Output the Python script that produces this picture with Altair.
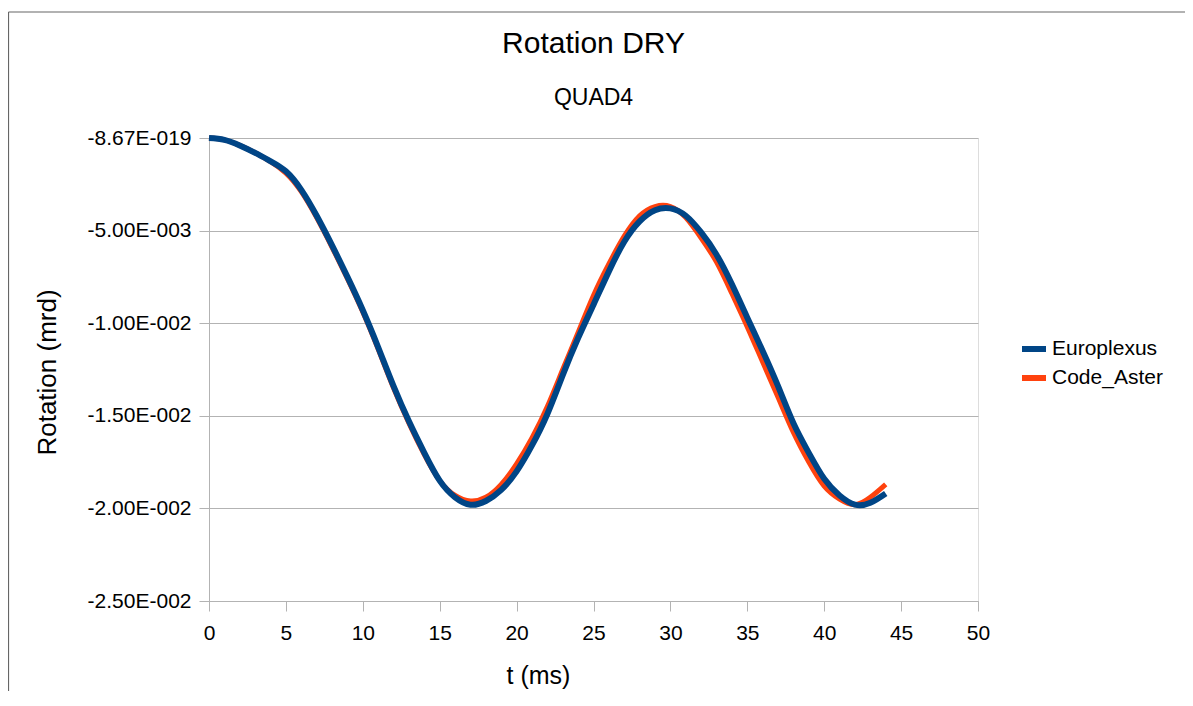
import altair as alt
import pandas as pd

# ---- data ----
t_europlexus = [0, 1, 2, 3, 4, 5, 6, 7, 8, 9, 10, 11, 12, 13, 14, 15, 16, 17, 18, 19, 20, 21, 22,
                23, 24, 25, 26, 27, 28, 29, 30, 31, 32, 33, 34, 35, 36, 37, 38, 39, 40, 41, 42, 43, 44]
v_europlexus = [0.0, -0.0001, -0.0004, -0.0008, -0.00125, -0.0018, -0.0028, -0.0042, -0.0058, -0.0075,
                -0.0093, -0.0113, -0.0134, -0.0153, -0.0170, -0.0185, -0.0194, -0.0198, -0.0196,
                -0.0190, -0.0180, -0.0166, -0.0149, -0.0128, -0.0108, -0.0090, -0.0072, -0.0056,
                -0.0045, -0.0039, -0.0038, -0.0042, -0.0051, -0.0063, -0.0079, -0.0097, -0.0115,
                -0.0134, -0.0154, -0.0170, -0.0184, -0.0193, -0.0198, -0.0197, -0.0192]

t_aster = [0, 1, 2, 3, 4, 5, 6, 7, 8, 9, 10, 11, 12, 13, 14, 15, 16, 17, 18, 19, 20, 21, 22,
           23, 24, 25, 26, 27, 28, 29, 30, 31, 32, 33, 34, 35, 36, 37, 38, 39, 40, 41, 42, 43, 44]
v_aster = [0.0, -0.0001, -0.0004, -0.0008, -0.00128, -0.0019, -0.0029, -0.0043, -0.0059, -0.0076,
           -0.0094, -0.0114, -0.0135, -0.0154, -0.0171, -0.0185, -0.0193, -0.0196, -0.0194,
           -0.0187, -0.0176, -0.0162, -0.0145, -0.0125, -0.0105, -0.0085, -0.0068, -0.0053,
           -0.0042, -0.0037, -0.0037, -0.0043, -0.0054, -0.0067, -0.0084, -0.0102, -0.0121,
           -0.0140, -0.0159, -0.0175, -0.0188, -0.0195, -0.0198, -0.0194, -0.0187]

series_names = ["Europlexus", "Code_Aster"]
series_colors = ["#004586", "#ff420e"]

x_ticks = [0, 5, 10, 15, 20, 25, 30, 35, 40, 45, 50]
y_ticks = [0, -0.005, -0.01, -0.015, -0.02, -0.025]
y_tick_labels = ["-8.67E-019", "-5.00E-003", "-1.00E-002", "-1.50E-002", "-2.00E-002", "-2.50E-002"]

df = pd.concat([
    pd.DataFrame({"t": t_europlexus, "v": v_europlexus, "series": series_names[0]}),
    pd.DataFrame({"t": t_aster, "v": v_aster, "series": series_names[1]}),
])

# label expression mapping tick values to the reference's strings
expr = "''"
for val, lab in reversed(list(zip(y_ticks, y_tick_labels))):
    expr = f"round(datum.value*10000) == {round(val*10000)} ? '{lab}' : ({expr})"

FONT = "Liberation Sans"
W, H = 769, 463

color = alt.Color(
    "series:N",
    scale=alt.Scale(domain=series_names, range=series_colors),
    legend=alt.Legend(
        title=None, orient="none", legendX=810, legendY=196,
        symbolType="stroke", symbolSize=576, symbolStrokeWidth=6,
        labelFont=FONT, labelFontSize=21, labelColor="#000000",
        labelOffset=3, rowPadding=2, labelLimit=300,
    ),
)

x = alt.X("t:Q", scale=alt.Scale(domain=[0, 50], nice=False),
          axis=alt.Axis(values=x_ticks, title="t (ms)", grid=False,
                        labelFont=FONT, labelFontSize=21, labelColor="#000000",
                        labelBaseline="middle", labelPadding=22, labelFlush=False,
                        tickSize=10, tickColor="#b3b3b3", domainColor="#b3b3b3",
                        titleFont=FONT, titleFontSize=25, titleFontWeight="normal",
                        titleColor="#000000", titleX=329, titleY=74, titleBaseline="middle"))
y = alt.Y("v:Q", scale=alt.Scale(domain=[-0.025, 0], nice=False, zero=False),
          axis=alt.Axis(values=y_ticks, labelExpr=expr, title="Rotation (mrd)",
                        grid=True, gridColor="#b3b3b3",
                        labelFont=FONT, labelFontSize=21, labelColor="#000000",
                        labelPadding=8, tickSize=10, tickColor="#b3b3b3",
                        domainColor="#b3b3b3",
                        titleFont=FONT, titleFontSize=26, titleFontWeight="normal",
                        titleColor="#000000", titleX=-162, titleY=234,
                        titleBaseline="middle", titleAngle=270))

orange = alt.Chart(df).transform_filter(alt.datum.series == series_names[1]).mark_line(
    strokeWidth=5, interpolate="natural").encode(x=x, y=y, color=color)
blue = alt.Chart(df).transform_filter(alt.datum.series == series_names[0]).mark_line(
    strokeWidth=6, interpolate="natural").encode(x=x, y=y, color=color)

frame_top = alt.Chart(pd.DataFrame({"a": [0]})).mark_rule(color="#666666", strokeWidth=1.2).encode(
    x=alt.value(-200.5), x2=alt.value(990), y=alt.value(-126))
frame_left = alt.Chart(pd.DataFrame({"a": [0]})).mark_rule(color="#666666", strokeWidth=1.2).encode(
    x=alt.value(-200.5), y=alt.value(-126), y2=alt.value(600))

chart = alt.layer(orange, blue, frame_top, frame_left).properties(
    width=W, height=H,
    title=alt.TitleParams(
        "Rotation DRY", subtitle="QUAD4", anchor="middle",
        font=FONT, fontSize=30, fontWeight="normal", color="#000000",
        subtitleFont=FONT, subtitleFontSize=23, subtitleColor="#000000",
        subtitlePadding=28, offset=-99,
    ),
    autosize=alt.AutoSizeParams(type="none"),
    padding={"left": 201, "top": 130, "right": 207, "bottom": 90},
).configure_view(stroke="#b3b3b3", strokeWidth=1).configure(background="#ffffff")

chart.save("out.html", embed_options={"renderer": "svg", "actions": False})
